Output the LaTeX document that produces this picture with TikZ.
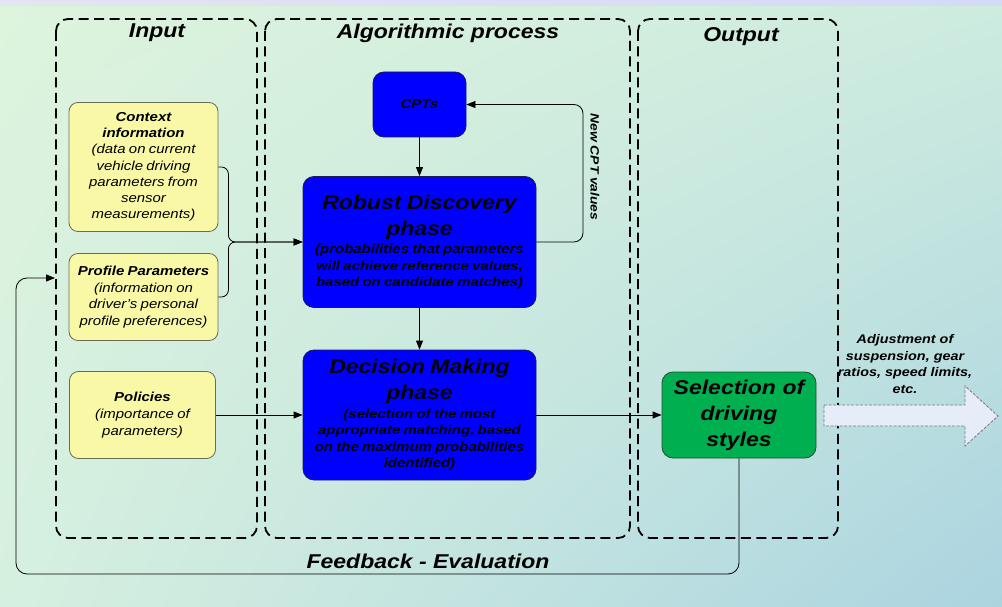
\documentclass[tikz,border=0pt]{standalone}
\usepackage{fontspec}
\setmainfont[FakeStretch=1.15]{Liberation Sans}
\usetikzlibrary{arrows.meta,shadings}
\definecolor{bgUL}{HTML}{DDF4DD}
\definecolor{bgUR}{HTML}{CDEBDF}
\definecolor{bgLL}{HTML}{D6F0E0}
\definecolor{bgLR}{HTML}{ABD4E0}
\definecolor{stripL}{HTML}{E4E4F2}
\definecolor{stripR}{HTML}{D3DAF4}
\definecolor{yfill}{HTML}{F8F8A6}
\definecolor{ybord}{HTML}{6B6B55}
\definecolor{bfill}{HTML}{0000FF}
\definecolor{bbord}{HTML}{1C1C50}
\definecolor{gfill}{HTML}{00B050}
\definecolor{gbord}{HTML}{2A4A32}
\definecolor{afill}{HTML}{E6EDF8}
\definecolor{abord}{HTML}{7A7A7A}
\tikzset{
  ybox/.style={draw=ybord, fill=yfill, line width=0.8pt, rounded corners=9pt, align=center, inner sep=0pt},
  bbox/.style={draw=bbord, fill=bfill, line width=0.8pt, rounded corners=11pt, align=center, inner sep=0pt},
  gbox/.style={draw=gbord, fill=gfill, line width=0.8pt, rounded corners=11pt, align=center, inner sep=0pt},
  region/.style={draw=black, line width=1.8pt, dash pattern=on 10pt off 5.5pt, rounded corners=12pt},
  conn/.style={draw=black, line width=0.8pt, -{Triangle[length=9pt,width=7pt]}},
  title/.style={font=\fontsize{20}{24}\selectfont\bfseries\itshape},
  small/.style={font=\fontsize{12.5}{16.5}\selectfont\bfseries\itshape, align=center, inner sep=0pt},
}
\begin{document}
\begin{tikzpicture}[x=1pt,y=-1pt]
\useasboundingbox (0,0) rectangle (1002,607);
% background
\shade[upper left=bgUL, upper right=bgUR, lower left=bgLL, lower right=bgLR] (0,6) rectangle (1002,607);
\shade[left color=stripL, right color=stripR] (0,0) rectangle (1002,6);
% regions
\draw[region] (56,19) rectangle (257,538);
\draw[region] (265,19) rectangle (630,538);
\draw[region] (638,19) rectangle (838,538);
\node[title] (tin) at (157,33) {Input};
\node[title] (talg) at (448,33) {Algorithmic process};
\node[title] (tout) at (741,37) {Output};
% input boxes
\node[ybox, minimum width=149pt, minimum height=129pt, text width=140pt] (ctx) at (143.5,167)
 {{\fontsize{13}{16}\selectfont\bfseries\itshape Context\\ information\par}
  {\fontsize{13}{16.3}\selectfont\itshape (data on current\\ vehicle driving\\ parameters from\\ sensor\\ measurements)\par}};
\node[ybox, minimum width=149pt, minimum height=87pt, text width=140pt] (prof) at (143.5,297)
 {{\fontsize{13}{17}\selectfont\bfseries\itshape Profile Parameters\par}
  {\fontsize{13}{16.5}\selectfont\itshape (information on\\ driver’s personal\\ profile preferences)\par}};
\node[ybox, minimum width=146pt, minimum height=87pt, text width=138pt] (pol) at (142.5,415)
 {{\fontsize{13}{17}\selectfont\bfseries\itshape Policies\par}
  {\fontsize{13}{17}\selectfont\itshape (importance of\\ parameters)\par}};
% process boxes
\node[bbox, minimum width=93pt, minimum height=65pt, font=\fontsize{13}{16}\selectfont\bfseries\itshape] (cpt) at (419.5,104.5) {CPTs};
\node[bbox, minimum width=233pt, minimum height=131pt, text width=228pt] (rob) at (419.5,242)
 {{\fontsize{20}{26}\selectfont\bfseries\itshape Robust\ \kern2pt Discovery\\ phase\par}\vspace{2pt}
  {\fontsize{13}{16.5}\selectfont\bfseries\itshape (probabilities that parameters\\ will achieve reference values,\\ based on candidate matches)\par}};
\node[bbox, minimum width=233pt, minimum height=130pt, text width=228pt] (dec) at (419.5,415)
 {{\fontsize{20}{26}\selectfont\bfseries\itshape Decision\ \kern2pt Making\\ phase\par}\vspace{2pt}
  {\fontsize{13}{16.5}\selectfont\bfseries\itshape (selection of the most\\ appropriate matching, based\\ on the maximum probabilities\\ identified)\par}};
% output box
\node[gbox, minimum width=154pt, minimum height=86pt, text width=150pt, font=\fontsize{20}{26}\selectfont\bfseries\itshape] (sel) at (739,415)
 {Selection of\\ driving\\ styles};
% connectors
\draw[conn, rounded corners=7pt] (ctx.east) -- ++(10,0) |- (rob.west);
\draw[conn, rounded corners=7pt] (prof.east) -- ++(10,0) |- (rob.west);
\draw[conn] (pol.east) -- (dec.west);
\draw[conn] (cpt.south) -- (rob.north);
\draw[conn] (rob.south) -- (dec.north);
\coordinate (loop) at (583,104.5);
\draw[conn, rounded corners=9pt] (rob.east) -| (loop) -- (cpt.east);
\node[small, rotate=-90, font=\fontsize{12}{14}\selectfont\bfseries\itshape] (newcpt) at (595,167) {New CPT values};
\draw[conn] (dec.east) -- (sel.west);
% feedback
\coordinate (fb1) at (739,574);
\coordinate (fb2) at (16,574);
\coordinate (fb3) at (16,278);
\coordinate (fbend) at (55,278);
\draw[conn, rounded corners=11pt] (sel.south) -- (fb1) -- (fb2) -- (fb3) -- (fbend);
\node[title] (fbl) at (428,561) {Feedback - Evaluation};
% big output arrow
\draw[draw=abord, fill=afill, line width=0.8pt, dash pattern=on 3pt off 1.5pt]
  (824,405) -- (965,405) -- (965,386) -- (998,416) -- (965,446) -- (965,426) -- (824,426) -- cycle;
\node[small] (adj) at (905,364) {Adjustment of\\ suspension, gear\\ ratios, speed limits,\\ etc.};
\end{tikzpicture}
\end{document}
